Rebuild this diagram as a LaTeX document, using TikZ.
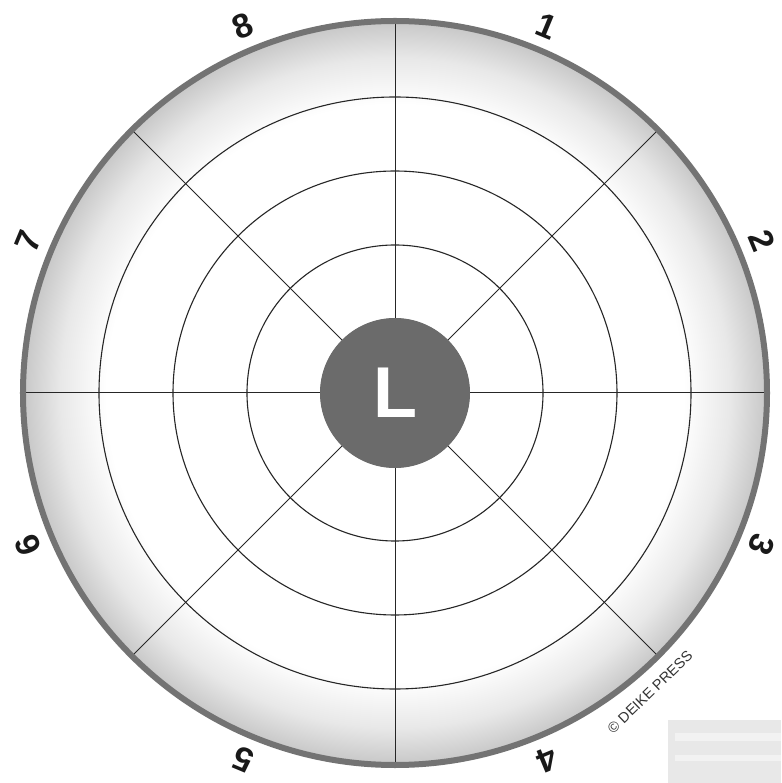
\documentclass[tikz,border=0pt]{standalone}
\usepackage{fontspec}
\setmainfont{Liberation Sans}
\pgfdeclareradialshading{rimshade}{\pgfpointorigin}{color(0bp)=(white); color(19.4bp)=(white); color(22.5bp)=(black!9); color(25bp)=(black!22); color(50bp)=(black!22)}
\begin{document}
\begin{tikzpicture}[x=1pt,y=1pt,
  ringline/.style={line width=1.1pt, black!85},
  spoke/.style={line width=1pt, black!85},
  rimline/.style={line width=6pt, black!55},
  hub/.style={circle, fill=black!58, minimum size=150pt, inner sep=0pt, text=white,
    font=\fontsize{72}{72}\selectfont\bfseries},
  numlbl/.style={inner sep=0pt, font=\fontsize{34}{34}\selectfont\bfseries, text=black!90},
  copyr/.style={inner sep=0pt, font=\fontsize{14.5}{15}\selectfont, text=black!80},
  scanbox/.style={fill=black!9}
]
\useasboundingbox (-395,-390) rectangle (386,393);
\fill[white] (-395,-390) rectangle (386,393);
\shade[shading=rimshade] (0,0) circle (372);
\foreach \r in {74,148,222,296} \draw[ringline] (0,0) circle (\r);
\node[hub] (hub) at (0,0) {L};
\foreach \a in {0,45,...,315} {
  \coordinate (rim\a) at (\a:372);
  \draw[spoke] (hub.\a) -- (rim\a);
}
\draw[rimline] (0,0) circle (372);
\foreach \k in {1,...,8} {
  \pgfmathsetmacro\ang{67.5-45*(\k-1)}
  \node[numlbl, rotate=\ang-90] (n\k) at (\ang:397) {\k};
}
\node[copyr, rotate=44] (copy) at (255,-299) {© DEIKE PRESS};
\fill[scanbox] (273,-327) rectangle (386,-390);
\fill[black!5] (280,-340) rectangle (386,-348);
\fill[black!5] (280,-362) rectangle (386,-368);
\end{tikzpicture}
\end{document}
